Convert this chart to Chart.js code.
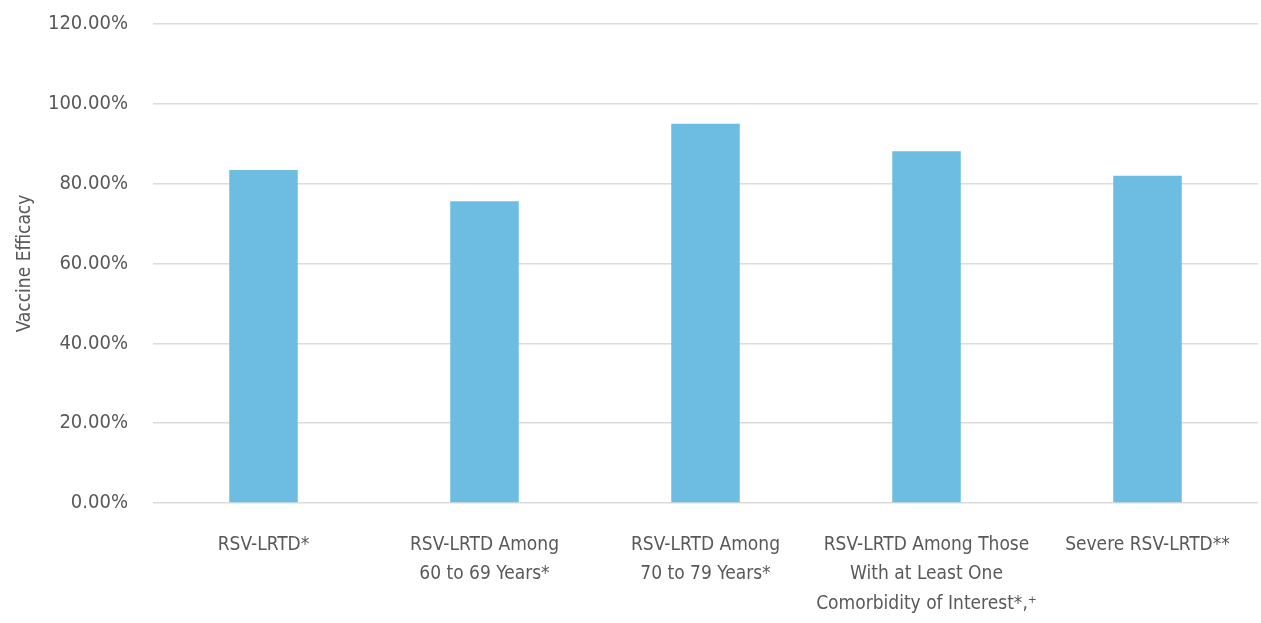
<!DOCTYPE html>
<html>
<head>
<meta charset="utf-8">
<script src="https://cdn.jsdelivr.net/npm/chart.js@4.4.1/dist/chart.umd.min.js"></script>
<style>
  html, body { margin: 0; padding: 0; background: #ffffff; }
  #wrap { width: 1261px; height: 623px; position: relative; }
</style>
</head>
<body>
<div id="wrap"><canvas id="chart"></canvas></div>
<script>
// Vaccine efficacy by endpoint / subgroup
const categories = [
  ["RSV-LRTD*"],
  ["RSV-LRTD Among", "60 to 69 Years*"],
  ["RSV-LRTD Among", "70 to 79 Years*"],
  ["RSV-LRTD Among Those", "With at Least One", "Comorbidity of Interest*,\u207A"],
  ["Severe RSV-LRTD**"]
];
const efficacy = [83.4, 75.6, 95.0, 88.1, 82.0];
const yTicks = [0, 20, 40, 60, 80, 100, 120];
const yTitle = "Vaccine Efficacy";

const FONT = "'DejaVu Sans Condensed', 'Liberation Sans Narrow', 'Roboto', sans-serif";
const TEXT = "#595959";

new Chart(document.getElementById("chart"), {
  type: "bar",
  data: {
    labels: categories,
    datasets: [{
      data: efficacy,
      backgroundColor: "#6cbde1",
      borderWidth: 0,
      categoryPercentage: 1.0,
      barPercentage: 0.31
    }]
  },
  options: {
    responsive: true,
    maintainAspectRatio: false,
    animation: false,
    layout: { padding: { top: 24, right: 3, left: 0, bottom: 0 } },
    plugins: { legend: { display: false }, tooltip: { enabled: false } },
    scales: {
      x: {
        grid: { display: false, drawTicks: false },
        border: { display: false },
        ticks: {
          color: TEXT,
          font: { family: FONT, size: 19, lineHeight: 1.55 },
          padding: 27,
          maxRotation: 0,
          autoSkip: false
        },
        afterFit: (s) => { s.height = 120; s.paddingLeft = 0; s.paddingRight = 0; }
      },
      y: {
        min: 0,
        max: 120,
        afterBuildTicks: (s) => { s.ticks = yTicks.map(v => ({ value: v })); },
        grid: { color: "#dcdcdc", lineWidth: 1.5, drawTicks: false },
        border: { display: false },
        ticks: {
          color: TEXT,
          font: { family: FONT, size: 20 },
          padding: 25,
          callback: (v) => v.toFixed(2) + "%"
        },
        title: {
          display: true,
          text: yTitle,
          color: TEXT,
          font: { family: FONT, size: 19 },
          padding: { top: 14, bottom: 0 }
        },
        afterFit: (s) => { s.width = 153; s.paddingTop = 0; s.paddingBottom = 0; }
      }
    }
  }
});
</script>
</body>
</html>
